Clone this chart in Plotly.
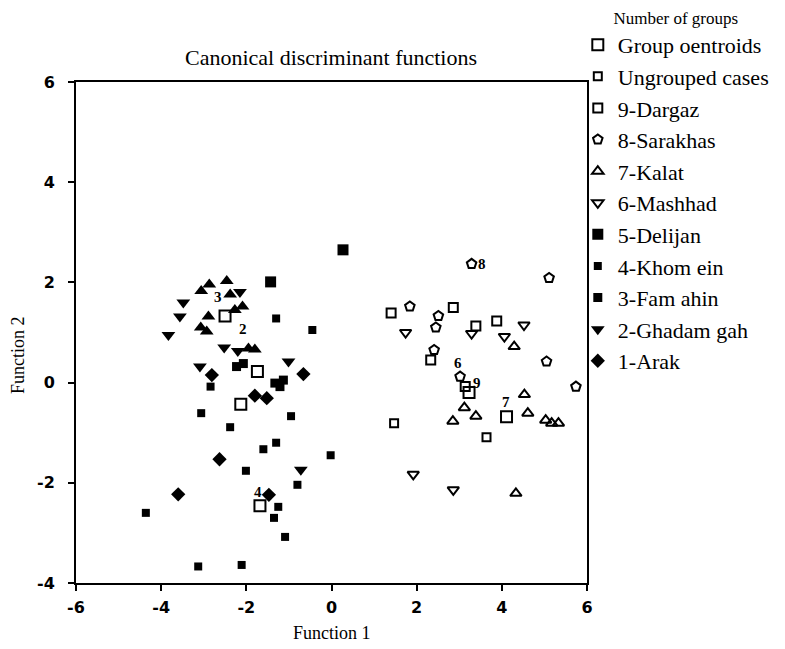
import plotly.graph_objects as go

# ---- data (Function 1, Function 2) ----
centroid_x = [-2.50, -1.74, -2.13, -1.68, 3.23, 4.11]
centroid_y = [1.33, 0.22, -0.43, -2.46, -0.20, -0.68]

ungrouped_x = [1.47, 3.64]
ungrouped_y = [-0.81, -1.09]

dargaz_x = [2.86, 3.39, 3.88, 2.33, 3.14, 1.40]
dargaz_y = [1.50, 1.13, 1.23, 0.45, -0.08, 1.39]

sarakhas_x = [3.29, 5.11, 1.84, 2.51, 2.45, 2.41, 5.05, 3.02, 5.74]
sarakhas_y = [2.37, 2.09, 1.52, 1.33, 1.10, 0.65, 0.42, 0.12, -0.08]

kalat_x = [4.29, 3.12, 4.53, 4.61, 2.85, 3.39, 5.03, 5.17, 5.33, 4.33]
kalat_y = [0.72, -0.50, -0.24, -0.61, -0.77, -0.67, -0.75, -0.81, -0.81, -2.21]

mashhad_x = [1.74, 3.29, 4.06, 4.52, 1.92, 2.86]
mashhad_y = [1.00, 0.98, 0.92, 1.15, -1.83, -2.14]

delijan_x = [0.27, -1.43]
delijan_y = [2.65, 2.01]

khomein_x = [-0.45, -2.84, -3.06, -2.38, -1.60, -0.02, -2.01, -0.80, -4.36,
             -1.25, -1.35, -1.09, -3.13, -2.11, -1.30, -0.95, -1.30]
khomein_y = [1.05, -0.08, -0.61, -0.89, -1.33, -1.45, -1.76, -2.04, -2.60,
             -2.48, -2.70, -3.08, -3.67, -3.64, 1.28, -0.67, -1.20]

famahin_x = [-2.23, -2.07, -1.33, -1.21, -1.13]
famahin_y = [0.32, 0.38, -0.01, -0.08, 0.05]

ghadamgah_x = [-3.48, -3.56, -2.15, -3.83, -2.52, -2.20, -3.09, -1.01, -0.72]
ghadamgah_y = [1.60, 1.32, 1.81, 0.95, 0.70, 0.63, 0.32, 0.42, -1.74]

extra_tri_x = [-3.06, -2.87, -2.46, -2.38, -2.27, -2.09, -2.89, -3.07, -2.93, -1.95, -1.80]
extra_tri_y = [1.83, 1.96, 2.03, 1.76, 1.45, 1.52, 1.32, 1.10, 1.02, 0.68, 0.66]

arak_x = [-2.81, -0.66, -1.80, -1.52, -2.63, -3.60, -1.47]
arak_y = [0.15, 0.17, -0.26, -0.31, -1.53, -2.23, -2.24]

label_text = ["3", "2", "4", "6", "9", "7", "8"]
label_x = [-2.67, -2.08, -1.73, 2.97, 3.42, 4.10, 3.53]
label_y = [1.71, 1.07, -2.18, 0.39, -0.01, -0.39, 2.37]

x_ticks = [-6, -4, -2, 0, 2, 4, 6]
x_tick_text = ["-6", "-4", "-2", "0", "2", "4", "6"]
y_ticks = [-4, -2, 0, 2, 4, 6]
y_tick_text = ["-4", "-2", "0", "2", "4", "6"]

SERIF = "Liberation Serif"
BLACK = "#000000"

fig = go.Figure()

def add(name, xs, ys, symbol, size, lw=2, show=True):
    fig.add_trace(go.Scatter(
        x=xs, y=ys, mode="markers", name=name, showlegend=show,
        marker=dict(symbol=symbol, size=size, color=BLACK,
                    line=dict(color=BLACK, width=lw)),
    ))

add("Group oentroids", centroid_x, centroid_y, "square-open", 11, 2)
add("Ungrouped cases", ungrouped_x, ungrouped_y, "square-open", 8, 2)
add("9-Dargaz", dargaz_x, dargaz_y, "square-open", 9, 2)
add("8-Sarakhas", sarakhas_x, sarakhas_y, "pentagon-open", 10, 2)
add("7-Kalat", kalat_x, kalat_y, "triangle-up-open", 10, 2)
add("6-Mashhad", mashhad_x, mashhad_y, "triangle-down-open", 10, 2)
add("5-Delijan", delijan_x, delijan_y, "square", 11, 0)
add("4-Khom ein", khomein_x, khomein_y, "square", 8, 0)
add("3-Fam ahin", famahin_x, famahin_y, "square", 9, 0)
add("2-Ghadam gah", ghadamgah_x, ghadamgah_y, "triangle-down", 12, 0)
add("1-Arak", arak_x, arak_y, "diamond", 11, 0)
add("", extra_tri_x, extra_tri_y, "triangle-up", 12, 0, show=False)

for t, lx, ly in zip(label_text, label_x, label_y):
    fig.add_annotation(x=lx, y=ly, text=t, showarrow=False,
                       font=dict(family=SERIF, size=15, color=BLACK, weight="bold"))

fig.add_annotation(xref="paper", yref="paper", x=0.5, y=-0.0998, yanchor="middle",
                   xanchor="center", text="Function 1", showarrow=False,
                   font=dict(family=SERIF, size=18, color=BLACK))
fig.add_annotation(xref="paper", yref="paper", x=-0.1135, y=0.455, textangle=-90,
                   xanchor="center", yanchor="middle",
                   text="Function 2", showarrow=False,
                   font=dict(family=SERIF, size=18, color=BLACK))

axis_common = dict(showgrid=False, zeroline=False, showline=True, linecolor=BLACK,
                   linewidth=2, mirror=True, ticks="outside", ticklen=6,
                   tickwidth=2, tickcolor=BLACK,
                   tickfont=dict(family="DejaVu Sans", size=16, color=BLACK, weight="bold"))

fig.update_xaxes(range=[-6, 6], tickvals=x_ticks, ticktext=x_tick_text,
                 ticklabelstandoff=3, **axis_common)
fig.update_yaxes(range=[-4, 6], tickvals=y_ticks, ticktext=y_tick_text,
                 ticklabelstandoff=10, **axis_common)

fig.update_layout(
    width=785, height=649,
    margin=dict(l=76, r=198, t=82, b=66, autoexpand=False),
    plot_bgcolor="white", paper_bgcolor="white",
    title=dict(text="Canonical discriminant functions", x=331 / 785, xanchor="center",
               y=1 - 57 / 649, yanchor="middle",
               font=dict(family=SERIF, size=22, color=BLACK)),
    legend=dict(x=0.982, xanchor="left", y=1.16, yanchor="top",
                font=dict(family=SERIF, size=22, color=BLACK),
                title=dict(text="Number of groups", side="top center",
                           font=dict(family=SERIF, size=17, color=BLACK)),
                tracegroupgap=0, itemwidth=30, bgcolor="rgba(0,0,0,0)",
                maxheight=0.95),
)

fig.write_html("out.html")
